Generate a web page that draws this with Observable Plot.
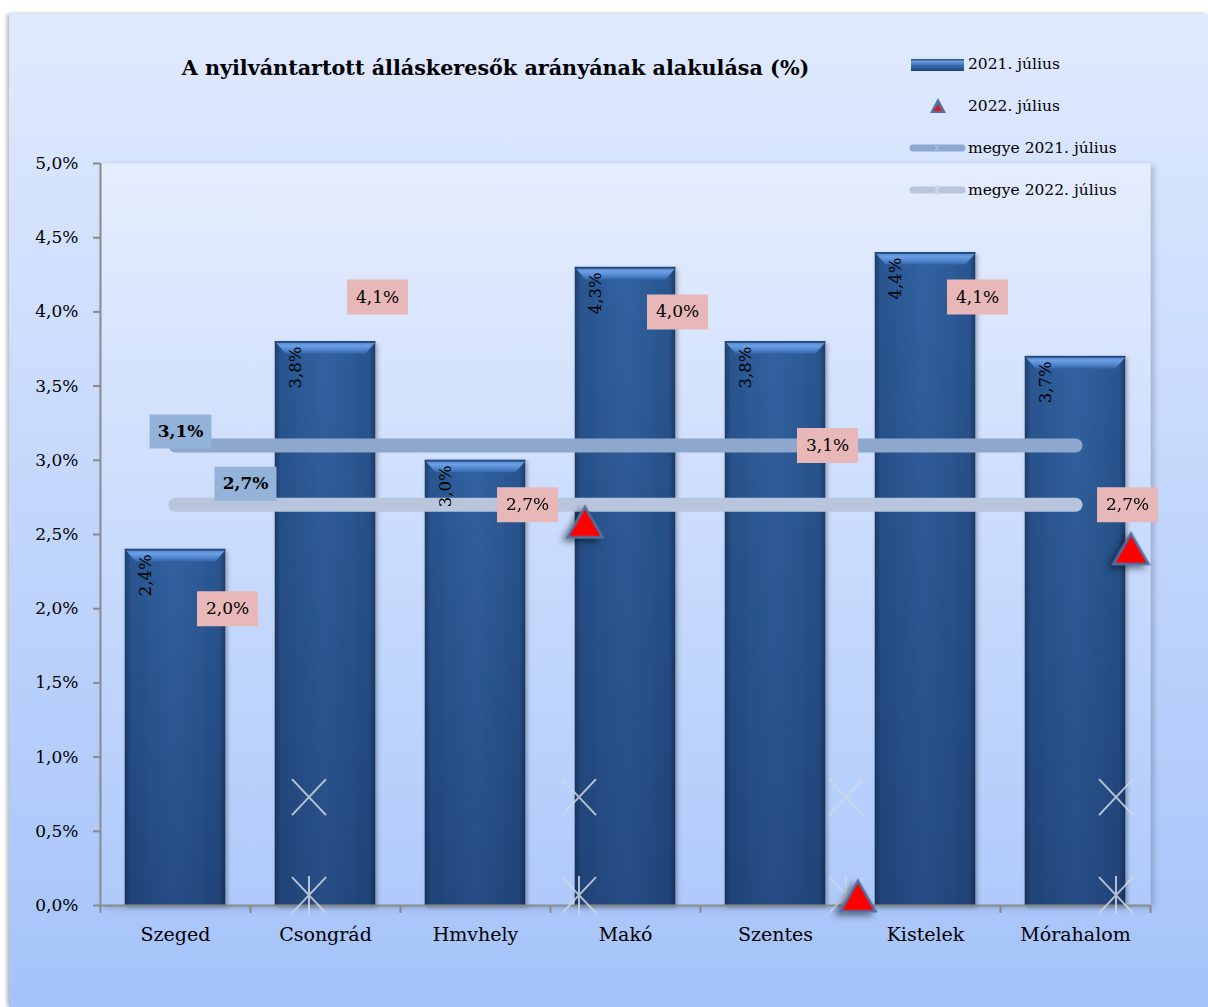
<!DOCTYPE html>
<html><head><meta charset="utf-8">
<script src="https://cdn.jsdelivr.net/npm/d3@7"></script>
<script src="https://cdn.jsdelivr.net/npm/@observablehq/plot@0.6"></script>
<style>
body{margin:0;background:#fff;}
#wrap{position:relative;width:1208px;height:1007px;overflow:hidden;background:#fff;font-family:"DejaVu Serif",serif;}
#chartbg{position:absolute;left:9px;top:14px;width:1199px;height:993px;background:linear-gradient(#e0eafe,#a5c3fa);box-shadow:-2px 0 4px rgba(0,0,0,.3);}
#plot{position:absolute;left:0;top:0;}
#title{position:absolute;left:0;width:991px;top:56px;line-height:24px;text-align:center;font-weight:bold;font-size:20.7px;color:#000;}
#legend{position:absolute;left:0;top:0;pointer-events:none;}
</style></head><body>
<div id="wrap"><div id="chartbg"></div><div id="plot"></div>
<div id="title">A nyilvántartott álláskeresők arányának alakulása (%)</div>
<svg id="legend" width="1208" height="220"></svg></div>
<script>
// ---- data ----
const categories = ["Szeged","Csongrád","Hmvhely","Makó","Szentes","Kistelek","Mórahalom"];
const values2021 = [2.4, 3.8, 3.0, 4.3, 3.8, 4.4, 3.7];
const values2022 = [2.0, 4.1, 2.7, 4.0, 3.1, 4.1, 2.7];
const megye2021 = 3.1;
const megye2022 = 2.7;
// 2022 triangle markers as they appear (category position, value)
const trianglePos = [2.73, 4.55, 6.37];
const triangleVal = [2.55, 0.03, 2.37];
// stray megye markers as they appear (category position, value)
const crossPos = [0.89, 2.69, 4.47, 6.27];
const crossUpperVal = [0.73, 0.73, 0.73, 0.73];
const crossLowerVal = [0.07, 0.07, 0.07, 0.07];
const yTicks = [0, 0.5, 1, 1.5, 2, 2.5, 3, 3.5, 4, 4.5, 5];
const legendLabels = ["2021. július", "2022. július", "megye 2021. július", "megye 2022. július"];

const fmt = v => v.toFixed(1).replace(".", ",") + "%";
const bars = categories.map((c, i) => ({i, c, v: values2021[i]}));
const pts22 = categories.map((c, i) => ({i, c, v: values2022[i]}));
const m21 = categories.map((c, i) => ({i, v: megye2021}));
const m22 = categories.map((c, i) => ({i, v: megye2022}));
const tri = trianglePos.map((x, k) => ({x, v: triangleVal[k]}));
const crU = crossPos.map((x, k) => ({x, v: crossUpperVal[k]}));
const crL = crossPos.map((x, k) => ({x, v: crossLowerVal[k]}));
const boundaries = d3.range(categories.length + 1).map(k => k - 0.5);
const centers = categories.map((c, i) => i);

const boxSym = (w, h) => ({draw(ctx) { ctx.moveTo(-w/2, -h/2); ctx.lineTo(w/2, -h/2); ctx.lineTo(w/2, h/2); ctx.lineTo(-w/2, h/2); ctx.closePath(); }});
const timesSym = {draw(ctx) { ctx.moveTo(-17, -18); ctx.lineTo(17, 18); ctx.moveTo(17, -18); ctx.lineTo(-17, 18); }};
const starSym = {draw(ctx) { ctx.moveTo(-17, -18); ctx.lineTo(17, 18); ctx.moveTo(17, -18); ctx.lineTo(-17, 18); ctx.moveTo(0, -19); ctx.lineTo(0, 19); }};
// chamfered top bevel of a bar (drawn as a symbol centred on the bar top)
const bevelSym = {draw(ctx) { ctx.moveTo(-50.5, 0); ctx.lineTo(50.5, 0); ctx.lineTo(40, 12); ctx.lineTo(-40, 12); ctx.closePath(); }};

const hw = 0.335;
const plot = Plot.plot({
  width: 1208, height: 1007,
  marginLeft: 100, marginRight: 58, marginTop: 163, marginBottom: 102,
  x: {type: "linear", domain: [-0.5, categories.length - 0.5], label: null},
  y: {domain: [0, 5], label: null},
  style: {background: "transparent", fontFamily: "'DejaVu Serif', serif", color: "#000", overflow: "visible"},
  marks: [
    Plot.frame({fill: "url(#plotBg)", stroke: "none"}),
    Plot.rect(bars, {x1: d => d.i - hw, x2: d => d.i + hw, y1: 0, y2: "v", fill: "url(#barH)"}),
    Plot.rect(bars, {x1: d => d.i - hw, x2: d => d.i + hw, y1: 0, y2: "v", fill: "url(#barV)"}),
    Plot.dot(bars, {x: "i", y: "v", symbol: bevelSym, fill: "url(#bevel)", stroke: "none"}),
    Plot.rect(bars, {x1: d => d.i - hw, x2: d => d.i + hw, y1: d => d.v - 0.012, y2: "v", fill: "#24487a"}),
    Plot.ruleY([0], {stroke: "#8a8a8a", strokeWidth: 2}),
    Plot.ruleX([-0.5], {stroke: "#8a8a8a", strokeWidth: 2}),
    Plot.axisY(yTicks, {tickFormat: fmt, tickSize: 7, tickPadding: 15, fontSize: 17, stroke: "#8a8a8a", strokeWidth: 2, fill: "#000", label: null}),
    Plot.axisX(boundaries, {tickSize: 8, tickFormat: () => "", stroke: "#8a8a8a", strokeWidth: 2, label: null}),
    Plot.axisX(centers, {tickSize: 0, tickPadding: 22, tickFormat: i => categories[i], fontSize: 19, fill: "#000", label: null}),
    Plot.line(m21, {x: "i", y: "v", stroke: "#8ea7cc", strokeWidth: 14, strokeLinecap: "round"}),
    Plot.line(m22, {x: "i", y: "v", stroke: "#b8c5dd", strokeWidth: 14, strokeLinecap: "round"}),
    Plot.dot(crU, {x: "x", y: "v", symbol: timesSym, fill: "none", stroke: "#cfd7e3", strokeWidth: 2, strokeOpacity: 0.85}),
    Plot.dot(crL, {x: "x", y: "v", symbol: starSym, fill: "none", stroke: "#cfd7e3", strokeWidth: 2, strokeOpacity: 0.85}),
    Plot.text(bars, {x: "i", y: "v", text: d => fmt(d.v), rotate: -90, textAnchor: "end", lineAnchor: "middle", dx: -30, dy: 5, fontSize: 16.5, fill: "#000"}),
    Plot.dot(tri, {x: "x", y: "v", symbol: "triangle", r: 13, fill: "red", stroke: "#4d72a3", strokeWidth: 2.5}),
    Plot.dot(m21.slice(0, 1), {x: "i", y: "v", symbol: boxSym(62, 34), fill: "#94b3d8", stroke: "none", dx: 5, dy: -14}),
    Plot.text(m21.slice(0, 1), {x: "i", y: "v", text: d => fmt(d.v), dx: 5, dy: -14, fontSize: 17, fontWeight: "bold", fill: "#000"}),
    Plot.dot(m22.slice(0, 1), {x: "i", y: "v", symbol: boxSym(62, 34), fill: "#94b3d8", stroke: "none", dx: 70, dy: -21}),
    Plot.text(m22.slice(0, 1), {x: "i", y: "v", text: d => fmt(d.v), dx: 70, dy: -21, fontSize: 17, fontWeight: "bold", fill: "#000"}),
    Plot.dot(pts22, {x: "i", y: "v", symbol: boxSym(61, 35), fill: "#e8b8b8", stroke: "none", dx: 52, dy: 0}),
    Plot.text(pts22, {x: "i", y: "v", text: d => fmt(d.v), dx: 52, dy: 0, fontSize: 17, fill: "#000"})
  ]
});

const svg = d3.select(plot);
const defs = svg.insert("defs", ":first-child");
function lg(root, id, x2, y2, stops) {
  const g = root.append("linearGradient").attr("id", id).attr("x1", 0).attr("y1", 0).attr("x2", x2).attr("y2", y2);
  stops.forEach(([o, c, op = 1]) => g.append("stop").attr("offset", o).attr("stop-color", c).attr("stop-opacity", op));
}
lg(defs, "plotBg", 0, 1, [[0, "#e5edfe"], [1, "#afcafb"]]);
lg(defs, "barH", 1, 0, [[0, "#1d3d69"], [0.06, "#2a5690"], [0.5, "#3162a1"], [0.94, "#2a5690"], [1, "#1d3d69"]]);
lg(defs, "barV", 0, 1, [[0, "#000020", 0], [1, "#000020", 0.22]]);
lg(defs, "bevel", 0, 1, [[0, "#4b80c8"], [0.35, "#6c9ee4"], [0.7, "#4f84cc"], [1, "#3567aa"]]);
function shadow(id, dx, dy, sd, op) {
  defs.append("filter").attr("id", id).attr("x", "-50%").attr("y", "-50%").attr("width", "200%").attr("height", "200%")
    .append("feDropShadow").attr("dx", dx).attr("dy", dy).attr("stdDeviation", sd).attr("flood-color", "#000").attr("flood-opacity", op);
}
shadow("triShadow", -4, 3, 3, 0.5);
shadow("barShadow", 2, 2, 2, 0.3);
shadow("frameShadow", 3, 2, 3, 0.22);
svg.selectAll("[aria-label='frame']").attr("filter", "url(#frameShadow)");
svg.selectAll("g").filter(function () { return this.getAttribute("fill") === "red"; }).attr("filter", "url(#triShadow)");
svg.selectAll("g").filter(function () { return this.getAttribute("fill") === "url(#barH)"; }).attr("filter", "url(#barShadow)");
document.getElementById("plot").appendChild(plot);

// ---- legend ----
const L = d3.select("#legend");
const ld = L.append("defs");
lg(ld, "lgBar", 0, 1, [[0, "#22477a"], [0.2, "#6a9be0"], [0.55, "#3a6cb0"], [1, "#1f4375"]]);
const rowsY = [64, 106, 148, 190];
L.append("rect").attr("x", 911).attr("y", 59).attr("width", 53).attr("height", 12).attr("fill", "url(#lgBar)");
L.append("path").attr("d", "M938,98 L946,113 L930,113 Z").attr("fill", "#4e73a4");
L.append("path").attr("d", "M938,104.5 L942.5,111 L933.5,111 Z").attr("fill", "#e8141c");
L.append("line").attr("x1", 913).attr("x2", 962).attr("y1", 148).attr("y2", 148).attr("stroke", "#8ea7cc").attr("stroke-width", 7).attr("stroke-linecap", "round");
L.append("path").attr("d", "M934,144 L940,152 M940,144 L934,152").attr("stroke", "#a9bcd8").attr("stroke-width", 1.3);
L.append("line").attr("x1", 913).attr("x2", 962).attr("y1", 190).attr("y2", 190).attr("stroke", "#b8c5dd").attr("stroke-width", 7).attr("stroke-linecap", "round");
L.append("path").attr("d", "M934,186 L940,194 M940,186 L934,194 M937,185 L937,195").attr("stroke", "#cdd6e6").attr("stroke-width", 1.3);
legendLabels.forEach((t, k) => L.append("text").attr("x", 968).attr("y", rowsY[k]).attr("dy", "0.35em")
  .attr("font-family", "'DejaVu Serif', serif").attr("font-size", 15.5).attr("fill", "#000").text(t));
</script>
</body></html>
